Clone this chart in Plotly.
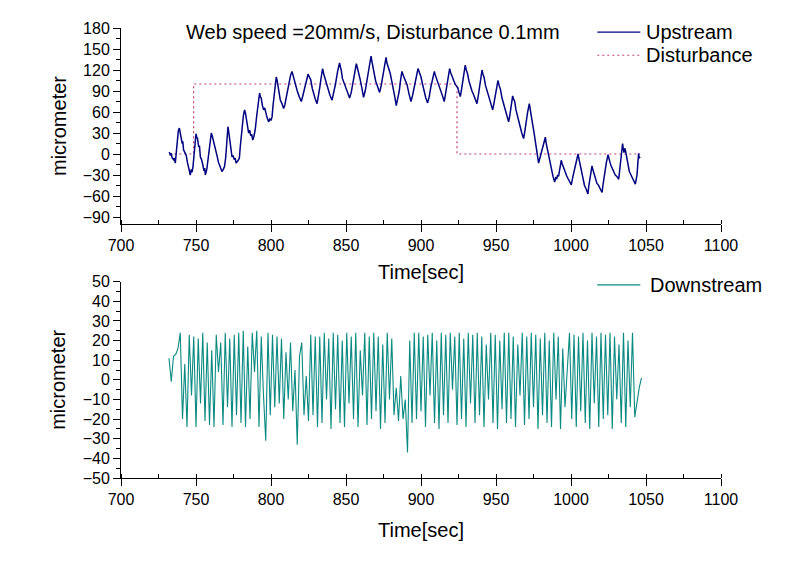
import plotly.graph_objects as go

# ---------------- data ----------------
up_t = [732.2, 733.0, 733.6, 734.0, 735.0, 735.6, 736.2, 737.0, 737.6, 738.2,
        738.9, 739.4, 740.0, 740.8, 741.2, 741.7, 742.6, 743.5, 744.3, 745.0,
        745.6, 746.2, 746.8, 747.4, 748.0, 748.8, 749.4, 750.0, 750.5, 751.0,
        751.8, 752.3, 752.9, 753.7, 754.5, 755.3, 755.8, 756.2, 757.2, 758.0,
        758.8, 759.5, 760.2, 760.8, 761.3, 762.1, 762.9, 763.5, 764.2, 765.0,
        766.0, 766.6, 767.3, 768.2, 769.0, 769.8, 770.5, 771.3, 771.8, 772.3,
        773.1, 774.0, 774.7, 775.5, 776.1, 776.7, 777.8, 778.9, 779.5, 780.2,
        780.9, 781.6, 782.4, 783.0, 783.5, 784.2, 785.1, 785.8, 786.5, 787.2,
        787.8, 788.6, 789.5, 790.5, 791.5, 792.4, 792.9, 793.5, 794.2, 795.1,
        795.8, 796.5, 797.4, 798.4, 799.3, 800.0, 800.7, 801.4, 802.0, 802.8,
        803.5, 804.1, 804.8, 805.5, 806.2, 807.3, 808.4, 809.2, 810.0, 811.0,
        812.0, 813.0, 814.0, 814.7, 815.5, 816.5, 817.5, 818.8, 820.2, 821.3,
        822.5, 823.6, 824.7, 825.6, 826.5, 827.5, 828.5, 829.6, 830.7, 831.6,
        832.5, 833.5, 834.4, 835.2, 836.0, 837.0, 838.0, 839.3, 840.7, 841.8,
        843.0, 844.4, 845.7, 846.3, 846.8, 847.6, 848.4, 849.2, 850.0, 851.2,
        852.4, 853.5, 854.5, 855.7, 856.9, 857.5, 858.0, 858.8, 859.5, 860.6,
        861.7, 862.8, 864.0, 865.3, 866.7, 867.3, 867.8, 868.5, 869.1, 869.8,
        870.5, 871.5, 872.4, 873.5, 874.5, 875.6, 876.7, 877.3, 878.0, 878.8,
        879.5, 880.5, 881.5, 882.5, 883.5, 884.5, 885.5, 886.4, 887.3, 888.2,
        889.0, 889.8, 890.7, 892.0, 893.3, 894.4, 895.5, 896.7, 898.0, 899.0,
        900.0, 901.0, 902.0, 903.2, 904.4, 905.5, 906.5, 907.7, 908.9, 909.5,
        910.0, 910.8, 911.7, 912.6, 913.5, 914.5, 915.5, 916.2, 917.0, 918.0,
        919.1, 919.8, 920.5, 921.7, 922.9, 923.7, 924.5, 925.3, 926.2, 927.0,
        927.8, 928.6, 929.5, 930.2, 931.0, 932.0, 932.9, 934.0, 935.0, 936.2,
        937.3, 938.1, 939.0, 939.8, 940.7, 941.3, 942.0, 943.0, 944.0, 945.0,
        946.0, 947.0, 947.8, 948.6, 949.5, 950.4, 951.3, 952.1, 953.0, 954.0,
        955.1, 955.8, 956.5, 957.4, 958.4, 959.2, 960.0, 960.5, 961.1, 961.8,
        962.5, 963.2, 964.0, 965.0, 966.0, 967.2, 968.4, 969.2, 970.0, 971.1,
        972.2, 972.8, 973.5, 974.3, 975.1, 975.8, 976.5, 977.5, 978.4, 979.5,
        980.5, 981.7, 982.9, 983.4, 984.0, 984.5, 985.1, 986.0, 987.0, 988.0,
        989.1, 989.8, 990.5, 991.1, 991.7, 992.6, 993.5, 994.1, 994.8, 995.5,
        996.2, 997.1, 998.0, 999.1, 1000.2, 1001.3, 1002.5, 1003.6, 1004.7, 1005.4,
        1006.0, 1006.6, 1007.3, 1008.1, 1009.0, 1010.1, 1011.3, 1011.9, 1012.5, 1013.2,
        1014.0, 1014.8, 1015.5, 1016.4, 1017.3, 1018.2, 1019.0, 1019.8, 1020.7, 1021.6,
        1022.5, 1023.6, 1024.7, 1025.3, 1026.0, 1026.6, 1027.3, 1028.4, 1029.5, 1030.6,
        1031.8, 1032.4, 1033.0, 1033.7, 1034.4, 1034.8, 1035.3, 1035.8, 1036.2, 1036.9,
        1037.5, 1038.2, 1038.9, 1040.0, 1041.0, 1042.0, 1042.9, 1043.5, 1044.0, 1044.6,
        1045.1, 1045.5, 1046.0]
up_v = [3, -2, 1, -5, -8, -6, -13, 5, 20, 33,
        37, 30, 28, 15, 18, 6, 2, -2, -12, -18,
        -22, -30, -22, -26, -18, 5, 18, 29, 24, 22,
        10, 12, -4, -8, -15, -24, -20, -30, -22, -8,
        10, 22, 30, 26, 22, 16, 10, 3, -4, -12,
        -18, -22, -25, -22, -18, -5, 20, 39, 32, 25,
        10, -4, -2, -8, -6, -13, -10, -6, 10, 30,
        40, 55, 63, 58, 52, 45, 30, 34, 26, 28,
        20, 25, 35, 55, 75, 87, 82, 80, 70, 63,
        66, 58, 52, 46, 50, 48, 53, 70, 85, 100,
        110, 105, 96, 88, 77, 72, 65, 70, 80, 92,
        103, 112, 118, 112, 108, 98, 90, 82, 75, 84,
        95, 108, 114, 110, 106, 94, 85, 78, 72, 82,
        95, 110, 122, 114, 108, 100, 90, 84, 77, 86,
        100, 118, 130, 124, 120, 108, 103, 100, 95, 88,
        80, 88, 100, 116, 129, 124, 118, 110, 106, 94,
        81, 90, 105, 124, 140, 132, 125, 116, 110, 104,
        100, 94, 88, 98, 110, 126, 138, 130, 125, 118,
        115, 104, 95, 82, 69, 78, 90, 106, 118, 112,
        108, 102, 99, 86, 75, 84, 95, 110, 122, 116,
        110, 100, 90, 80, 73, 82, 95, 108, 118, 113,
        110, 104, 101, 95, 90, 82, 75, 84, 95, 110,
        122, 116, 112, 104, 99, 97, 95, 88, 82, 92,
        105, 116, 127, 120, 115, 104, 96, 90, 85, 78,
        72, 82, 95, 108, 120, 114, 110, 98, 91, 84,
        78, 70, 63, 72, 85, 96, 105, 98, 92, 80,
        72, 66, 60, 52, 46, 55, 65, 74, 83, 78,
        75, 64, 56, 48, 40, 30, 22, 32, 45, 60,
        72, 62, 55, 44, 34, 24, 15, 2, -13, -4,
        5, 16, 24, 16, 10, 2, -4, -14, -25, -32,
        -40, -34, -35, -30, -32, -18, -9, -14, -18, -22,
        -28, -31, -35, -40, -44, -32, -20, -8, 0, -8,
        -15, -22, -30, -38, -45, -50, -57, -45, -35, -24,
        -17, -24, -30, -36, -42, -44, -48, -50, -55, -40,
        -25, -12, -1, -8, -12, -16, -20, -24, -30, -32,
        -36, -24, -10, 4, 15, 8, 2, 8, 6, -2,
        -10, -18, -25, -30, -35, -38, -43, -36, -30, -12,
        1, -6, -4]

dist_t = [732.2, 748.4, 748.4, 924.0, 924.0, 1046.0]
dist_v = [0, 0, 100, 100, 0, 0]

down_t0 = 732.0
down_dt = 1.5
down_v = [11, -1, 12, 13, 16, 24, -20, 8, -24, 23,
          -8, 22, -24, 21, -12, 24, -21, 19, -23, 15,
          -24, 23, 4, 19, -23, 24, -14, 21, -24, 23,
          -18, 24, -22, 25, -24, 17, -20, 24, 4, 25,
          -24, 22, -8, -31, 24, -18, 23, -14, 22, -12,
          21, -20, 14, -10, 19, -16, 5, -33, 12, 19,
          -18, 2, -21, 23, -18, 22, -24, 22, -22, 24,
          -10, 21, -25, 24, -15, 23, -22, 20, -24, 24,
          -12, 22, -20, 24, -24, 15, -8, 24, -23, 22,
          -20, 24, -16, 22, -25, 18, -22, 24, -10, 21,
          -18, -4, -21, 2, -20, -10, -37, 20, -22, 24,
          -20, 24, -16, 22, -24, 23, -8, 24, -22, 20,
          -25, 24, -18, 23, -22, 24, -5, 22, -23, 24,
          -20, 21, -24, 24, -12, 23, -22, 24, -18, 22,
          -24, 18, -10, 24, -22, 23, -25, 20, -15, 24,
          -22, 24, -20, 22, -24, 18, -8, 24, -23, 22,
          -20, 24, -14, 23, -25, 21, -18, 24, -22, 20,
          -24, 24, -10, 22, -25, 16, -14, 4, 24, -20,
          23, -24, 22, -16, 24, -22, 20, -25, 24, -12,
          22, -24, 24, -20, 23, -18, 24, -25, 22, -10,
          18, -22, 24, -24, 20, -14, 24, -19, -10, -4,
          1]
down_t = [down_t0 + down_dt * i for i in range(len(down_v))]

x_ticks = [700, 750, 800, 850, 900, 950, 1000, 1050, 1100]
y1_ticks = [-90, -60, -30, 0, 30, 60, 90, 120, 150, 180]
y2_ticks = [-50, -40, -30, -20, -10, 0, 10, 20, 30, 40, 50]

title_text = "Web speed =20mm/s, Disturbance 0.1mm"
legend_names = ["Upstream", "Disturbance", "Downstream"]

# ---------------- figure ----------------
FONT = "Liberation Sans, Arial, sans-serif"
TXT = 20
C_UP, C_DIST, C_DOWN = "#000080", "#c0407a", "#0a8a80"
DOT = "2px,3px"
fig = go.Figure()

fig.add_trace(go.Scatter(x=dist_t, y=dist_v, mode="lines", name=legend_names[1],
                         line=dict(color=C_DIST, width=1.2, dash=DOT),
                         xaxis="x", yaxis="y", showlegend=False))
fig.add_trace(go.Scatter(x=up_t, y=up_v, mode="lines", name=legend_names[0],
                         line=dict(color=C_UP, width=1.5),
                         xaxis="x", yaxis="y", showlegend=False))
fig.add_trace(go.Scatter(x=down_t, y=down_v, mode="lines", name=legend_names[2],
                         line=dict(color=C_DOWN, width=1.1),
                         xaxis="x2", yaxis="y2", showlegend=False))

axis_common = dict(showline=True, linecolor="black", linewidth=1, showgrid=False,
                   zeroline=False, ticks="outside", ticklen=7, tickcolor="black",
                   automargin=False,
                   tickfont=dict(family=FONT, size=16, color="black"))

def xaxis_style(standoff):
    return dict(axis_common, range=[700, 1100], tickvals=x_ticks,
                minor=dict(ticks="inside", ticklen=4, dtick=25, tick0=700, tickcolor="black"),
                title=dict(text="Time[sec]", font=dict(family=FONT, size=TXT, color="black"),
                           standoff=standoff))

# legend drawn as key lines + labels (paper coordinates)
key_x0, key_x1, lab_x = 0.7938, 0.8655, 0.8722
legend_rows = [  # (y, color, dash, label x)
    (0.9910, C_UP, "solid", lab_x),
    (0.9394, C_DIST, DOT, lab_x),
    (0.4290, C_DOWN, "solid", 0.8788),
]
shapes, annots = [], []
for (yy, col, dsh, lx), name in zip(legend_rows, legend_names):
    shapes.append(dict(type="line", xref="paper", yref="paper", x0=key_x0, x1=key_x1, y0=yy, y1=yy,
                       line=dict(color=col, width=1.2, dash=dsh)))
    annots.append(dict(text=name, x=lx, y=yy, xref="paper", yref="paper", xanchor="left",
                       yanchor="middle", showarrow=False,
                       font=dict(family=FONT, size=TXT, color="black")))
annots.append(dict(text=title_text, x=0.4205, y=0.9905, xref="paper", yref="paper",
                   xanchor="center", yanchor="middle", showarrow=False,
                   font=dict(family=FONT, size=TXT, color="black")))

# page body has an 8px offset; margins compensate so the plot area lands where the reference has it
fig.update_layout(
    width=800, height=562,
    paper_bgcolor="white", plot_bgcolor="white",
    showlegend=False,
    margin=dict(l=112.7, r=87.3, t=19.7, b=91.7),
    xaxis=dict(xaxis_style(11), domain=[0, 1], anchor="y"),
    yaxis=dict(axis_common, domain=[0.5644, 1], anchor="x", range=[-100, 180], tickvals=y1_ticks,
               minor=dict(ticks="outside", ticklen=4, dtick=15, tick0=0, tickcolor="black"),
               title=dict(text="micrometer", font=dict(family=FONT, size=TXT, color="black"), standoff=10)),
    xaxis2=dict(xaxis_style(15), domain=[0, 1], anchor="y2"),
    yaxis2=dict(axis_common, domain=[0, 0.4363], anchor="x2", range=[-50, 50], tickvals=y2_ticks,
                minor=dict(ticks="outside", ticklen=4, dtick=5, tick0=0, tickcolor="black"),
                title=dict(text="micrometer", font=dict(family=FONT, size=TXT, color="black"), standoff=11)),
    shapes=shapes,
    annotations=annots,
)

fig.write_html("out.html")
